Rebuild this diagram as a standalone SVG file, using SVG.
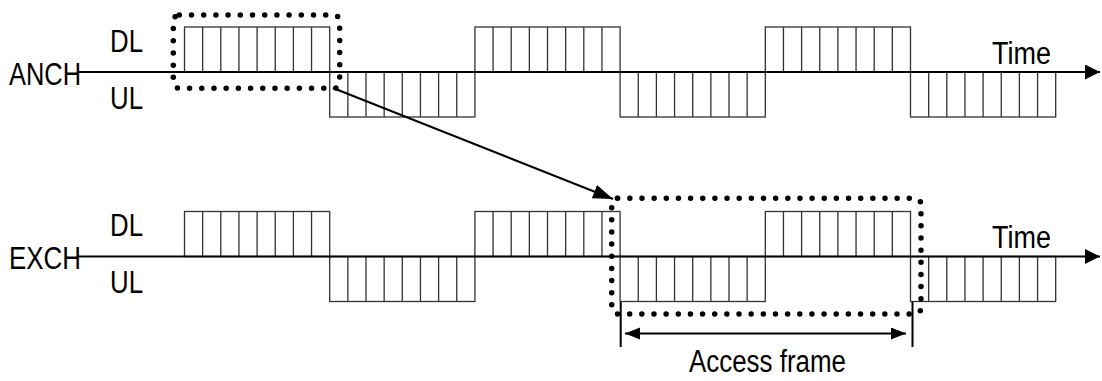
<svg xmlns="http://www.w3.org/2000/svg" width="1102" height="381" viewBox="0 0 1102 381">
<style>
.t{font-family:"Liberation Sans",Arial,sans-serif;font-size:31px;fill:#000}
.cell{fill:none;stroke:#333;stroke-width:1.3}
.axis{stroke:#000;stroke-width:2;fill:none}
.dot{fill:none;stroke:#000;stroke-width:5.5;stroke-linecap:round}
.ln{stroke:#000;stroke-width:2;fill:none}
</style>
<defs>
<g id="blk">
<rect class="cell" x="0" y="0" width="145.2" height="45"/>
<path class="cell" d="M18.15 0V45M36.3 0V45M54.45 0V45M72.6 0V45M90.75 0V45M108.9 0V45M127.05 0V45"/>
</g>
<marker id="ah" markerUnits="userSpaceOnUse" markerWidth="16" markerHeight="16" refX="15" refY="7.5" orient="auto">
<path d="M0 0L15 7.5L0 15Z" fill="#000"/>
</marker>
<marker id="ah2" markerUnits="userSpaceOnUse" markerWidth="22" markerHeight="16" refX="20" refY="7" orient="auto">
<path d="M0 0L20 7L0 14Z" fill="#000"/>
</marker>
<marker id="ah3" markerUnits="userSpaceOnUse" markerWidth="16" markerHeight="14" refX="15" refY="6" orient="auto-start-reverse">
<path d="M0 0L15 6L0 12Z" fill="#000"/>
</marker>
</defs>

<g id="anch">
<text class="t" x="9" y="84.5" textLength="72" lengthAdjust="spacingAndGlyphs">ANCH</text>
<text class="t" x="110" y="51.5" textLength="33" lengthAdjust="spacingAndGlyphs">DL</text>
<text class="t" x="110" y="108.5" textLength="33" lengthAdjust="spacingAndGlyphs">UL</text>
<text class="t" x="992" y="63.5" textLength="59" lengthAdjust="spacingAndGlyphs">Time</text>
<use href="#blk" x="184.5" y="27"/>
<use href="#blk" x="329.7" y="72"/>
<use href="#blk" x="474.9" y="27"/>
<use href="#blk" x="620.1" y="72"/>
<use href="#blk" x="765.3" y="27"/>
<use href="#blk" x="910.5" y="72"/>
</g>

<g id="exch">
<text class="t" x="9" y="268.5" textLength="72" lengthAdjust="spacingAndGlyphs">EXCH</text>
<text class="t" x="110" y="236" textLength="33" lengthAdjust="spacingAndGlyphs">DL</text>
<text class="t" x="110" y="293" textLength="33" lengthAdjust="spacingAndGlyphs">UL</text>
<text class="t" x="992" y="248" textLength="59" lengthAdjust="spacingAndGlyphs">Time</text>
<use href="#blk" x="184.5" y="211.5"/>
<use href="#blk" x="329.7" y="256.5"/>
<use href="#blk" x="474.9" y="211.5"/>
<use href="#blk" x="620.1" y="256.5"/>
<use href="#blk" x="765.3" y="211.5"/>
<use href="#blk" x="910.5" y="256.5"/>
</g>

<g id="sel-top">
<rect class="dot" x="173.3" y="15" width="166.4" height="73.3" rx="6" stroke-dasharray="0 12.2"/>
</g>
<g id="sel-bottom">
<rect class="dot" x="611.7" y="198.3" width="309.3" height="115.7" rx="6" stroke-dasharray="0 12.15"/>
</g>

<g id="access">
<text class="t" x="689" y="372" textLength="157" lengthAdjust="spacingAndGlyphs">Access frame</text>
</g>

<g id="connectors">
<path class="axis" d="M78 72H1100" marker-end="url(#ah)"/>
<path class="axis" d="M78 256.5H1100" marker-end="url(#ah)"/>
<path class="ln" d="M333 88L613 199" marker-end="url(#ah2)"/>
<path class="ln" d="M620.7 302V347M912.5 302V347"/>
<path class="ln" d="M625 333.5H906" marker-start="url(#ah3)" marker-end="url(#ah3)"/>
</g>
</svg>
